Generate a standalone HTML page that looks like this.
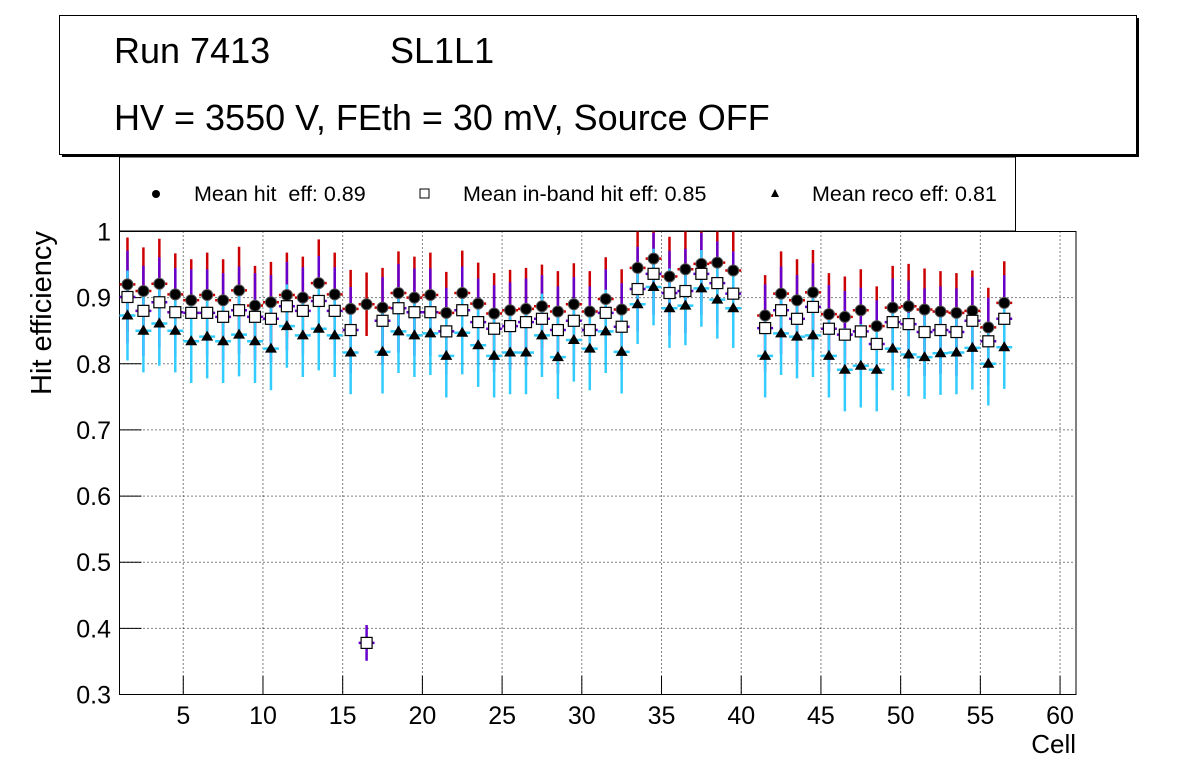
<!DOCTYPE html>
<html><head><meta charset="utf-8"><style>
html,body{margin:0;padding:0;background:#fff;}
svg{display:block;font-family:"Liberation Sans",Arial,sans-serif;}
</style></head><body>
<svg id="chart" width="1196" height="772" viewBox="0 0 1196 772" xmlns="http://www.w3.org/2000/svg">
  <rect x="0" y="0" width="1196" height="772" fill="#fff"/>
  <g>
    <rect x="62" y="18" width="1077" height="139" fill="#000"/>
    <rect x="59.5" y="15.5" width="1077" height="139" fill="#fff" stroke="#000" stroke-width="1"/>
    <text x="114" y="63" font-size="36">Run 7413</text>
    <text x="390" y="63" font-size="36">SL1L1</text>
    <text x="114" y="130" font-size="36">HV = 3550 V, FEth = 30 mV, Source OFF</text>
  </g>
  <g>
    <rect x="119.5" y="157" width="896" height="74" fill="#fff" stroke="#000" stroke-width="1"/>
    <circle cx="156" cy="194" r="4" fill="#000"/>
    <text x="194" y="201" font-size="21.5" xml:space="preserve" style="white-space:pre">Mean hit  eff: 0.89</text>
    <rect x="420" y="189" width="9" height="9" fill="#fff" stroke="#000" stroke-width="1"/>
    <text x="463" y="201" font-size="21.5">Mean in-band hit eff: 0.85</text>
    <polygon points="775,189 779,197 771,197" fill="#000"/>
    <text x="812" y="201" font-size="21.5">Mean reco eff: 0.81</text>
  </g>
  <g id="axes"></g>
  <g id="marks"></g>
  <text x="51" y="313" font-size="29" text-anchor="middle" transform="rotate(-90 51 313)">Hit efficiency</text>
  <text x="1076" y="753" font-size="26" text-anchor="end">Cell</text>
</svg>
<script>
const cells = [];
for (let i = 1; i <= 56; i++) cells.push(i);
const hitEff = [0.920,0.910,0.921,0.905,0.896,0.904,0.896,0.911,0.888,0.893,0.904,0.900,0.922,0.905,0.883,0.890,0.885,0.907,0.900,0.904,
0.877,0.907,0.891,0.876,0.881,0.883,0.887,0.879,0.890,0.879,0.898,0.882,0.945,0.959,0.932,0.943,0.951,0.953,0.941,null,
0.873,0.906,0.896,0.908,0.875,0.871,0.881,0.857,0.885,0.887,0.882,0.879,0.877,0.880,0.855,0.892];
const inbandEff = [0.901,0.880,0.893,0.878,0.877,0.877,0.871,0.881,0.871,0.868,0.887,0.880,0.895,0.880,0.851,0.378,0.865,0.884,0.878,0.878,
0.849,0.881,0.863,0.853,0.857,0.863,0.868,0.851,0.865,0.851,0.877,0.856,0.913,0.936,0.907,0.910,0.936,0.922,0.906,null,
0.854,0.881,0.868,0.886,0.853,0.844,0.849,0.830,0.863,0.860,0.848,0.851,0.848,0.865,0.834,0.868];
const recoEff = [0.873,0.850,0.861,0.850,0.834,0.841,0.834,0.844,0.834,0.823,0.857,0.843,0.853,0.843,0.817,null,0.818,0.849,0.843,0.846,
0.812,0.847,0.828,0.812,0.817,0.817,0.843,0.810,0.836,0.823,0.849,0.818,0.890,0.916,0.884,0.888,0.914,0.897,0.884,null,
0.812,0.846,0.841,0.843,0.812,0.791,0.797,0.791,0.823,0.814,0.810,0.816,0.817,0.824,0.800,0.825];
const hitErr = [0.071,0.066,0.068,0.062,0.062,0.064,0.062,0.066,0.060,0.061,0.064,0.062,0.066,0.063,0.059,0.048,0.060,0.063,0.062,0.064,
0.062,0.064,0.062,0.061,0.061,0.062,0.063,0.061,0.062,0.061,0.063,0.061,0.060,0.058,0.060,0.060,0.058,0.058,0.060,0.0,
0.061,0.064,0.062,0.064,0.062,0.061,0.062,0.060,0.063,0.064,0.062,0.061,0.060,0.061,0.060,0.063];
const inbandErr = [0.070,0.068,0.068,0.067,0.066,0.066,0.066,0.066,0.066,0.066,0.067,0.066,0.068,0.066,0.065,0.027,0.066,0.067,0.066,0.066,
0.066,0.066,0.066,0.066,0.066,0.066,0.066,0.066,0.066,0.066,0.066,0.066,0.064,0.062,0.064,0.064,0.062,0.063,0.064,0.0,
0.066,0.066,0.066,0.066,0.066,0.066,0.066,0.066,0.066,0.066,0.066,0.066,0.066,0.066,0.066,0.066];
const recoErr = [0.068,0.063,0.064,0.063,0.063,0.063,0.063,0.063,0.063,0.063,0.063,0.063,0.063,0.063,0.063,0.0,0.063,0.063,0.063,0.063,
0.063,0.063,0.063,0.063,0.063,0.063,0.063,0.063,0.063,0.063,0.063,0.063,0.060,0.058,0.060,0.060,0.058,0.059,0.060,0.0,
0.063,0.063,0.063,0.063,0.063,0.063,0.063,0.063,0.063,0.063,0.063,0.063,0.063,0.063,0.063,0.063];
const xTicks = [5,10,15,20,25,30,35,40,45,50,55,60];
const yTicks = [0.3,0.4,0.5,0.6,0.7,0.8,0.9,1];
const yTickLabels = ["0.3","0.4","0.5","0.6","0.7","0.8","0.9","1"];

const NS = "http://www.w3.org/2000/svg";
const X0 = 119.5, X1 = 1076, Y0 = 694.5, Y1 = 231.5;
const xMin = 1, xMax = 61, yMin = 0.3, yMax = 1.0;
function xs(v){ return X0 + (v - xMin) / (xMax - xMin) * (X1 - X0); }
function ys(v){ return Y0 - (v - yMin) / (yMax - yMin) * (Y0 - Y1); }
function mk(tag, attrs, parent){
  const e = document.createElementNS(NS, tag);
  for (const k in attrs) e.setAttribute(k, attrs[k]);
  parent.appendChild(e);
  return e;
}
const axes = document.getElementById('axes');
const marks = document.getElementById('marks');

xTicks.forEach(t => {
  if (t >= xMax) return;
  const g = mk('line', {x1: xs(t), x2: xs(t), y1: Y1, y2: Y0, stroke: '#000', 'stroke-width': 1, 'stroke-dasharray': '1,3'}, axes);
  
  
});
yTicks.forEach(t => {
  if (t <= yMin || t >= yMax) return;
  const g = mk('line', {x1: X0, x2: X1, y1: ys(t), y2: ys(t), stroke: '#000', 'stroke-width': 1, 'stroke-dasharray': '1,3'}, axes);
  
  
});
const fr = mk('rect', {x: X0, y: Y1, width: X1 - X0, height: Y0 - Y1, fill: 'none', stroke: '#000', 'stroke-width': 1}, axes);


xTicks.forEach(v => {
  const t = mk('line', {x1: xs(v), x2: xs(v), y1: Y0, y2: Y0 - 19, stroke: '#000', 'stroke-width': 1}, axes);
  
  
  const l = mk('text', {x: xs(v), y: 724, 'font-size': 25, 'text-anchor': 'middle'}, axes);
  l.textContent = String(v);
  
  
});
yTicks.forEach((v, i) => {
  const t = mk('line', {x1: X0, x2: X0 + 22, y1: ys(v), y2: ys(v), stroke: '#000', 'stroke-width': 1}, axes);
  
  
  const l = mk('text', {x: 111, y: ys(v) + 9, 'font-size': 25, 'text-anchor': 'end'}, axes);
  l.textContent = yTickLabels[i];
  
  
});

function errBars(vals, errs, color, name){
  cells.forEach((c, i) => {
    const v = vals[i];
    if (v === null) return;
    const cx = xs(c + 0.5);
    const lo = Math.max(v - errs[i], yMin), hi = Math.min(v + errs[i], yMax);
    const a = mk('line', {x1: cx, x2: cx, y1: ys(lo), y2: ys(hi), stroke: color, 'stroke-width': 2.5}, marks);
    
    
    const b = mk('line', {x1: xs(c), x2: xs(c + 1), y1: ys(v), y2: ys(v), stroke: color, 'stroke-width': 2.5}, marks);
    
    
  });
}
errBars(hitEff, hitErr, '#cc0000', 'hit');
errBars(inbandEff, inbandErr, '#6600cc', 'inband');
errBars(recoEff, recoErr, '#33ccff', 'reco');

cells.forEach((c, i) => {
  const v = hitEff[i];
  if (v === null) return;
  const m = mk('circle', {cx: xs(c + 0.5), cy: ys(v), r: 5.5, fill: '#000', stroke: '#555', 'stroke-width': 1}, marks);
  
  
});
cells.forEach((c, i) => {
  const v = inbandEff[i];
  if (v === null) return;
  const m = mk('rect', {x: xs(c + 0.5) - 5.5, y: ys(v) - 5.5, width: 11, height: 11, fill: '#fff', stroke: '#000', 'stroke-width': 1.2}, marks);
  
  
});
cells.forEach((c, i) => {
  const v = recoEff[i];
  if (v === null) return;
  const cx = xs(c + 0.5), cy = ys(v);
  const m = mk('polygon', {points: `${cx},${cy - 6} ${cx + 6},${cy + 4} ${cx - 6},${cy + 4}`, fill: '#000'}, marks);
  
  
});
</script>
</body></html>
